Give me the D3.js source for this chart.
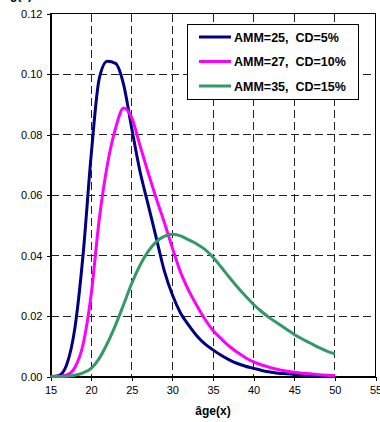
<!DOCTYPE html>
<html>
<head>
<meta charset="utf-8">
<script src="https://cdn.jsdelivr.net/npm/d3@7/dist/d3.min.js"></script>
<style>
  html, body { margin: 0; padding: 0; background: #fff; }
  svg { display: block; }
  text { font-family: Arial, "Liberation Sans", sans-serif; }
</style>
</head>
<body>
<svg id="chart" width="380" height="422"></svg>
<script>
// Ages (years) at which the densities are tabulated
const ages = d3.range(15, 51);

// Density g(x) for each schedule
const amm25 = [0, 0.0003, 0.004, 0.016, 0.040, 0.073, 0.0985, 0.1042, 0.1035, 0.0965,
  0.082, 0.068, 0.057, 0.046, 0.035, 0.027, 0.021, 0.017, 0.0135, 0.0108,
  0.0088, 0.007, 0.0055, 0.0043, 0.0034, 0.0027, 0.002, 0.0015, 0.0011, 0.0009,
  0.0007, 0.0005, 0.0003, 0.0002, 0.0001, 0.0001];
const amm27 = [0, 0, 0.0005, 0.003, 0.0105, 0.027, 0.052, 0.070, 0.082, 0.0888,
  0.0855, 0.0765, 0.0675, 0.059, 0.051, 0.0425, 0.0345, 0.0285, 0.0235, 0.019,
  0.0152, 0.0125, 0.010, 0.008, 0.0062, 0.0048, 0.0038, 0.003, 0.0023, 0.0018,
  0.0014, 0.0011, 0.0009, 0.0006, 0.0004, 0.0003];
const amm35 = [0, 0, 0.0001, 0.0004, 0.0012, 0.0027, 0.006, 0.011, 0.017, 0.0238,
  0.0308, 0.0367, 0.0413, 0.0445, 0.0463, 0.047, 0.0465, 0.0452, 0.0438, 0.042,
  0.0394, 0.0362, 0.0328, 0.0296, 0.0266, 0.0238, 0.0214, 0.0193, 0.0175, 0.0157,
  0.0139, 0.0124, 0.011, 0.0096, 0.0084, 0.0075];

const seriesNames = ["AMM=25,  CD=5%", "AMM=27,  CD=10%", "AMM=35,  CD=15%"];
const seriesColors = ["#000080", "#ff00ff", "#339966"];
const seriesValues = [amm25, amm27, amm35];

const xTicks = [15, 20, 25, 30, 35, 40, 45, 50, 55];
const yTicks = [0, 0.02, 0.04, 0.06, 0.08, 0.10, 0.12];

const svg = d3.select("#chart");

const x = d3.scaleLinear().domain([15, 55]).range([50.5, 375.5]);
const y = d3.scaleLinear().domain([0, 0.12]).range([376.5, 13.5]);

// dashed grid
const grid = svg.append("g").attr("stroke", "#222").attr("stroke-width", 1)
  .attr("stroke-dasharray", "8,4").attr("shape-rendering", "crispEdges");
grid.selectAll("line.v").data(xTicks.slice(1, -1)).join("line")
  .attr("x1", d => x(d)).attr("x2", d => x(d))
  .attr("y1", y(0.12)).attr("y2", y(0));
grid.selectAll("line.h").data(yTicks.slice(1, -1)).join("line")
  .attr("x1", x(15)).attr("x2", x(55))
  .attr("y1", d => y(d)).attr("y2", d => y(d));

// plot-area frame
svg.append("rect")
  .attr("x", x(15)).attr("y", y(0.12))
  .attr("width", x(55) - x(15)).attr("height", y(0) - y(0.12))
  .attr("fill", "none").attr("stroke", "#000").attr("stroke-width", 1)
  .attr("shape-rendering", "crispEdges");

// axes
const yAxis = d3.axisLeft(y).tickValues(yTicks).tickFormat(d3.format(".2f"))
  .tickSize(4).tickPadding(4);
const xAxis = d3.axisBottom(x).tickValues(xTicks).tickSize(4).tickPadding(6);

const gy = svg.append("g").attr("transform", `translate(${x(15)},0)`).call(yAxis);
const gx = svg.append("g").attr("transform", `translate(0,${y(0)})`).call(xAxis);
[gx, gy].forEach(g => {
  g.select(".domain").attr("stroke", "#000").attr("shape-rendering", "crispEdges");
  g.selectAll(".tick line").attr("stroke", "#000").attr("shape-rendering", "crispEdges");
  g.selectAll("text").attr("font-size", 11).attr("fill", "#000")
    .attr("font-family", "Arial, 'Liberation Sans', sans-serif");
});

// curves
const line = d3.line()
  .x((d, i) => x(ages[i]))
  .y(d => y(d))
  .curve(d3.curveMonotoneX);

svg.append("g").selectAll("path").data(seriesValues).join("path")
  .attr("d", d => line(d))
  .attr("fill", "none")
  .attr("stroke", (d, i) => seriesColors[i])
  .attr("stroke-width", 3)
  .attr("stroke-linejoin", "round");

// legend
const legend = svg.append("g");
legend.append("rect")
  .attr("x", 187.5).attr("y", 24.5).attr("width", 171).attr("height", 75)
  .attr("fill", "#fff").attr("stroke", "#000").attr("stroke-width", 1);
const rows = legend.selectAll("g.row").data(seriesNames).join("g")
  .attr("transform", (d, i) => `translate(0,${37 + i * 24.5})`);
rows.append("line")
  .attr("x1", 199).attr("x2", 231).attr("y1", 0).attr("y2", 0)
  .attr("stroke", (d, i) => seriesColors[i]).attr("stroke-width", 3);
rows.append("text")
  .attr("x", 234).attr("y", 4.5)
  .attr("font-size", 12.5).attr("font-weight", "bold")
  .style("white-space", "pre")
  .text(d => d);

// axis titles
svg.append("text")
  .attr("x", (x(15) + x(55)) / 2).attr("y", 415)
  .attr("text-anchor", "middle")
  .attr("font-size", 12).attr("font-weight", "bold")
  .text("âge(x)");
svg.append("text")
  .attr("x", 10).attr("y", -1)
  .attr("font-size", 12).attr("font-weight", "bold")
  .text("g(x)");
</script>
</body>
</html>
